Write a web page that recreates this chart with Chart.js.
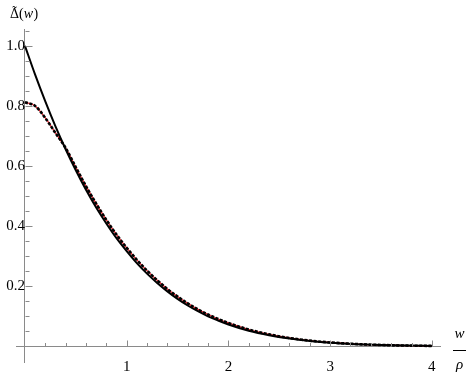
<!DOCTYPE html>
<html>
<head>
<meta charset="utf-8">
<script src="https://cdn.jsdelivr.net/npm/chart.js@4"></script>
<style>
  html, body { margin: 0; padding: 0; background: #fff; }
  #wrap { width: 469px; height: 375px; }
</style>
</head>
<body>
<div id="wrap"><canvas id="delta-chart"></canvas></div>
<script>
// w / rho
var wValues = [0, 0.1, 0.2, 0.3, 0.4, 0.5, 0.6, 0.7, 0.8, 0.9, 1.0,
  1.1, 1.2, 1.3, 1.4, 1.5, 1.6, 1.7, 1.8, 1.9, 2.0,
  2.2, 2.4, 2.6, 2.8, 3.0, 3.25, 3.5, 3.75, 4.0];
// solid black curve
var deltaExact = [1.000, 0.904, 0.815, 0.732, 0.656, 0.586, 0.521, 0.462, 0.409, 0.360, 0.317,
  0.277, 0.242, 0.211, 0.183, 0.158, 0.136, 0.117, 0.100, 0.086, 0.073,
  0.052, 0.037, 0.026, 0.018, 0.012, 0.0074, 0.0044, 0.0026, 0.0015];
// dotted black / red curve
var deltaApprox = [0.812, 0.800, 0.760, 0.710, 0.660, 0.596, 0.533, 0.475, 0.421, 0.372, 0.328,
  0.288, 0.252, 0.220, 0.191, 0.166, 0.143, 0.123, 0.106, 0.091, 0.078,
  0.056, 0.040, 0.028, 0.019, 0.013, 0.0078, 0.0046, 0.0027, 0.0016];

var xMajorTicks = [1, 2, 3, 4];
var xMinorTicks = [0.2, 0.4, 0.6, 0.8, 1.2, 1.4, 1.6, 1.8, 2.2, 2.4, 2.6, 2.8,
  3.2, 3.4, 3.6, 3.8];
var yMajorTicks = [0.2, 0.4, 0.6, 0.8, 1.0];
var yMinorTicks = [0.05, 0.1, 0.15, 0.25, 0.3, 0.35, 0.45, 0.5, 0.55, 0.65, 0.7,
  0.75, 0.85, 0.9, 0.95, 1.05];

var serif = "'Liberation Serif', 'Times New Roman', 'DejaVu Serif', serif";
var axisGray = "#8a8a8a";

function toPoints(xs, ys) {
  return xs.map(function (x, i) { return { x: x, y: ys[i] }; });
}

// Mathematica style inward tick marks + axis labels
var axisTicks = {
  id: "axisTicks",
  afterDraw: function (chart) {
    var ctx = chart.ctx;
    var xs = chart.scales.x, ys = chart.scales.y;
    var x0 = Math.round(xs.getPixelForValue(0)) + 0.5;
    var y0 = Math.round(ys.getPixelForValue(0)) + 0.5;
    ctx.save();
    ctx.strokeStyle = axisGray;
    ctx.lineWidth = 1;
    ctx.beginPath();
    xMajorTicks.forEach(function (v) {
      var px = Math.round(xs.getPixelForValue(v)) + 0.5;
      ctx.moveTo(px, y0); ctx.lineTo(px, y0 - 6);
    });
    xMinorTicks.forEach(function (v) {
      var px = Math.round(xs.getPixelForValue(v)) + 0.5;
      ctx.moveTo(px, y0); ctx.lineTo(px, y0 - 3.5);
    });
    yMajorTicks.forEach(function (v) {
      var py = Math.round(ys.getPixelForValue(v)) + 0.5;
      ctx.moveTo(x0, py); ctx.lineTo(x0 + 7, py);
    });
    yMinorTicks.forEach(function (v) {
      var py = Math.round(ys.getPixelForValue(v)) + 0.5;
      ctx.moveTo(x0, py); ctx.lineTo(x0 + 4, py);
    });
    ctx.stroke();

    // title: Delta-tilde(w)
    ctx.fillStyle = "#000";
    ctx.textBaseline = "alphabetic";
    ctx.textAlign = "left";
    ctx.font = "14px " + serif;
    var tx = 10, ty = 18;
    var dw = ctx.measureText("\u0394").width;
    ctx.fillText("\u0394", tx, ty);
    ctx.textAlign = "center";
    ctx.fillText("\u02DC", tx + dw / 2, ty - 2.5);
    ctx.textAlign = "left";
    tx += dw;
    ctx.fillText("(", tx, ty);
    tx += ctx.measureText("(").width;
    ctx.font = "italic 14px " + serif;
    ctx.fillText("w", tx, ty);
    tx += ctx.measureText("w").width + 0.5;
    ctx.font = "14px " + serif;
    ctx.fillText(")", tx, ty);

    // w / rho
    ctx.textAlign = "center";
    ctx.font = "italic 15px " + serif;
    ctx.fillText("w", 459.5, 338);
    ctx.fillText("\u03C1", 459.5, 369);
    ctx.beginPath();
    ctx.strokeStyle = "#000";
    ctx.moveTo(453, 350.5); ctx.lineTo(466, 350.5);
    ctx.stroke();
    ctx.restore();
  }
};

var ctx = document.getElementById("delta-chart").getContext("2d");
var deltaChart = new Chart(ctx, {
  type: "line",
  data: {
    datasets: [
      {
        label: "exact",
        data: toPoints(wValues, deltaExact),
        borderColor: "#000",
        borderWidth: 2,
        pointRadius: 0,
        cubicInterpolationMode: "monotone",
        fill: false,
        order: 1,
      },
      {
        label: "approx dots",
        data: toPoints(wValues, deltaApprox),
        borderColor: "#000",
        borderWidth: 2.6,
        borderDash: [3, 1.6],
        pointRadius: 0,
        cubicInterpolationMode: "monotone",
        fill: false,
        order: 2,
      },
      {
        label: "approx",
        data: toPoints(wValues, deltaApprox),
        borderColor: "#e0202a",
        borderWidth: 1.3,
        pointRadius: 0,
        cubicInterpolationMode: "monotone",
        fill: false,
        order: 3,
      },
    ],
  },
  options: {
    responsive: true,
    maintainAspectRatio: false,
    animation: false,
    layout: { padding: { left: 16, right: 29, top: 29, bottom: 8 } },
    plugins: { legend: { display: false }, tooltip: { enabled: false } },
    scales: {
      x: {
        type: "linear",
        min: -0.088,
        max: 4.08,
        position: { y: 0 },
        grid: { display: false },
        border: { display: true, color: axisGray, width: 1 },
        afterBuildTicks: function (scale) {
          scale.ticks = xMajorTicks.map(function (v) { return { value: v }; });
        },
        ticks: {
          autoSkip: false,
          maxRotation: 0,
          color: "#000",
          padding: 4,
          font: { family: serif, size: 15 },
          callback: function (v) { return String(v); },
        },
      },
      y: {
        type: "linear",
        min: -0.052,
        max: 1.056,
        position: { x: 0 },
        grid: { display: false },
        border: { display: true, color: axisGray, width: 1 },
        afterBuildTicks: function (scale) {
          scale.ticks = yMajorTicks.map(function (v) { return { value: v }; });
        },
        ticks: {
          autoSkip: false,
          color: "#000",
          padding: 4,
          font: { family: serif, size: 15 },
          callback: function (v) { return Number(v).toFixed(1); },
        },
      },
    },
  },
  plugins: [axisTicks],
});
</script>
</body>
</html>
